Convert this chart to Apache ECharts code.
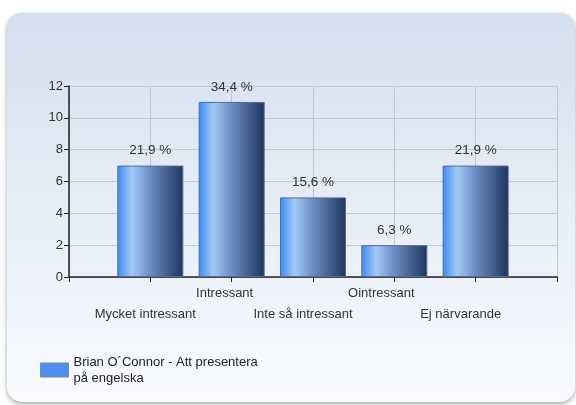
<!DOCTYPE html>
<html>
<head>
<meta charset="utf-8">
<script src="https://cdn.jsdelivr.net/npm/echarts@6/dist/echarts.min.js"></script>
<style>html,body{margin:0;padding:0;background:#fff}#c{width:576px;height:405px}</style>
</head>
<body>
<div id="c"></div>
<script>
const categories = ['Mycket intressant', 'Intressant', 'Inte så intressant', 'Ointressant', 'Ej närvarande'];
const values = [7, 11, 5, 2, 7];
const percentLabels = ['21,9 %', '34,4 %', '15,6 %', '6,3 %', '21,9 %'];
const seriesName = 'Brian O´Connor - Att presentera\npå engelska';
const yTicks = { min: 0, max: 12, interval: 2 };

const FONT = 'Liberation Sans';
const chart = echarts.init(document.getElementById('c'), null, { renderer: 'canvas' });

const barGradient = new echarts.graphic.LinearGradient(0, 0, 1, 0, [
  { offset: 0, color: '#3a8af2' },
  { offset: 0.22, color: '#a2c8f7' },
  { offset: 0.5, color: '#6b8dc2' },
  { offset: 1, color: '#1d355f' }
]);

chart.setOption({
  animation: false,
  textStyle: { fontFamily: FONT },
  graphic: [{
    type: 'rect',
    z: -10,
    shape: { x: 7, y: 13, width: 568, height: 389, r: 15 },
    style: {
      fill: new echarts.graphic.LinearGradient(0, 0, 0, 1, [
        { offset: 0, color: '#d3dff0' },
        { offset: 1, color: '#f9fbfe' }
      ]),
      shadowBlur: 5,
      shadowOffsetY: 2,
      shadowColor: 'rgba(0,0,0,0.35)'
    }
  }],
  grid: { left: 69, right: 19, top: 86, bottom: 128, containLabel: false },
  xAxis: {
    type: 'value',
    min: 0,
    max: categories.length + 1,
    interval: 1,
    axisLine: { show: true, lineStyle: { color: '#222', width: 1.5 } },
    axisTick: { show: true, length: 5, lineStyle: { color: '#222' } },
    splitLine: { show: true, lineStyle: { color: '#c4c8cf', width: 1 } },
    axisLabel: {
      margin: 6,
      color: '#333',
      fontSize: 13,
      lineHeight: 21,
      showMinLabel: true,
      showMaxLabel: true,
      formatter: function (v) {
        const i = Math.round(v) - 1;
        if (i < 0 || i >= categories.length) return '';
        const key = 'r' + i;
        return (i % 2 === 0 ? '\n' : '') + '{' + key + '|' + categories[i] + '}';
      },
      rich: {
        r0: { padding: [0, 10, 0, 0], fontSize: 13, color: '#333' },
        r1: { padding: [0, 14, 0, 0], fontSize: 13, color: '#333' },
        r2: { padding: [0, 20, 0, 0], fontSize: 13, color: '#333' },
        r3: { padding: [0, 26, 0, 0], fontSize: 13, color: '#333' },
        r4: { padding: [0, 30, 0, 0], fontSize: 13, color: '#333' }
      }
    }
  },
  yAxis: {
    type: 'value',
    min: yTicks.min,
    max: yTicks.max,
    interval: yTicks.interval,
    axisLine: { show: true, lineStyle: { color: '#222', width: 1.5 } },
    axisTick: { show: true, length: 5, lineStyle: { color: '#222' } },
    splitLine: { show: true, lineStyle: { color: '#c4c8cf', width: 1 } },
    axisLabel: { margin: 6, color: '#333', fontSize: 13 }
  },
  legend: {
    left: 40,
    top: 354,
    padding: 0,
    orient: 'vertical',
    itemWidth: 28,
    itemHeight: 14,
    icon: 'rect',
    textStyle: { color: '#222', fontSize: 13, lineHeight: 16, fontFamily: FONT },
    data: [{ name: seriesName, itemStyle: { color: '#4a8ef0', borderColor: '#7a8aa0', borderWidth: 1 } }]
  },
  series: [{
    name: seriesName,
    type: 'bar',
    barWidth: 66,
    data: values.map((v, i) => [i + 1, v]),
    itemStyle: { color: barGradient, borderColor: '#566a8c', borderWidth: 1 },
    label: {
      show: true,
      position: 'top',
      distance: 8,
      color: '#333',
      fontSize: 13.5,
      formatter: p => percentLabels[p.dataIndex]
    }
  }]
});
</script>
</body>
</html>
